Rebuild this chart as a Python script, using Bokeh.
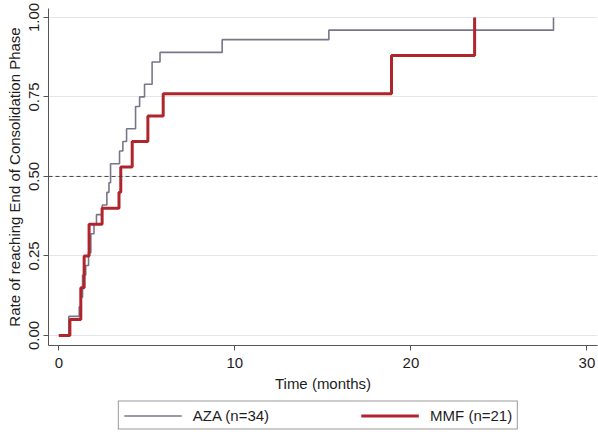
from bokeh.plotting import figure
from bokeh.layouts import column, row, Spacer
from bokeh.models import Range1d, Span, Legend, LegendItem, FixedTicker, NumeralTickFormatter
from bokeh.embed import file_html
from bokeh.resources import INLINE

# Data (Kaplan-Meier style cumulative rate)
aza_t = [0, 0.57, 1.16, 1.25, 1.35, 1.53, 1.69, 1.82, 2.0, 2.14, 2.47, 2.73, 2.85, 2.94,
         3.45, 3.64, 3.85, 4.36, 4.59, 4.87, 5.3, 5.75, 9.28, 15.34, 28.1]
aza_r = [0, 0.06, 0.09, 0.12, 0.19, 0.22, 0.26, 0.32, 0.35, 0.38, 0.41, 0.45, 0.48, 0.54,
         0.58, 0.61, 0.65, 0.72, 0.75, 0.79, 0.86, 0.89, 0.93, 0.96, 1.0]

mmf_t = [0, 0.63, 1.25, 1.44, 1.72, 2.46, 3.42, 3.52, 4.17, 5.06, 5.93, 18.9, 23.62]
mmf_r = [0, 0.05, 0.15, 0.25, 0.35, 0.40, 0.45, 0.53, 0.61, 0.69, 0.76, 0.88, 1.0]

x_ticks = [0, 10, 20, 30]
y_ticks = [0, 0.25, 0.5, 0.75, 1.0]
labels = ["AZA (n=34)", "MMF (n=21)"]

FONT = "Liberation Sans"
TXT = "#1e1e1e"
AX = "#555555"
AZA_C = "#77778a"
MMF_C = "#b0242c"

p = figure(width=598, height=398, output_backend="svg", toolbar_location=None,
           x_range=Range1d(-0.585, 30.6), y_range=Range1d(-0.0315, 1.028),
           min_border_left=48, min_border_right=1, min_border_top=8, min_border_bottom=53)
p.outline_line_color = None
p.background_fill_color = "white"
p.border_fill_color = "white"

p.xgrid.visible = False
p.ygrid.grid_line_color = "#e4e4ec"
p.ygrid.grid_line_width = 1

p.xaxis.ticker = FixedTicker(ticks=x_ticks)
p.yaxis.ticker = FixedTicker(ticks=y_ticks)
p.yaxis.formatter = NumeralTickFormatter(format="0.00")
p.yaxis.major_label_orientation = "vertical"

for ax in (p.xaxis[0], p.yaxis[0]):
    ax.axis_line_color = AX
    ax.major_tick_line_color = AX
    ax.major_tick_in = 0
    ax.major_tick_out = 5
    ax.minor_tick_line_color = None
    ax.major_label_text_font = FONT
    ax.major_label_text_font_size = "15px"
    ax.major_label_text_color = TXT
    ax.axis_label_text_font = FONT
    ax.axis_label_text_font_size = "15px"
    ax.axis_label_text_font_style = "normal"
    ax.axis_label_text_color = TXT

p.xaxis.axis_label = "Time (months)"
p.yaxis.axis_label = "Rate of reaching End of Consolidation Phase"
p.xaxis.major_label_standoff = 7
p.xaxis.axis_label_standoff = 4
p.yaxis.major_label_standoff = 4
p.yaxis.axis_label_standoff = 4

half = Span(location=0.5, dimension="width", line_color="#444444", line_width=1,
            line_dash="4 3")
p.add_layout(half)

p.step(aza_t, aza_r, mode="after", line_color=AZA_C, line_width=1.6)
p.step(mmf_t, mmf_r, mode="after", line_color=MMF_C, line_width=3)

# Legend strip below the chart (same series drawn out of view, only the key shows)
lg = figure(width=404, height=34, output_backend="svg", toolbar_location=None,
            x_axis_location=None, y_axis_location=None,
            x_range=Range1d(0, 1), y_range=Range1d(10, 11),
            min_border_left=0, min_border_right=0, min_border_top=0, min_border_bottom=0)
lg.grid.visible = False
lg.outline_line_color = None
lg.border_fill_color = "white"
lg.background_fill_color = "white"
l_aza = lg.step(aza_t, aza_r, mode="after", line_color=AZA_C, line_width=1.6)
l_mmf = lg.step(mmf_t, mmf_r, mode="after", line_color=MMF_C, line_width=3)

legend = Legend(items=[LegendItem(label=labels[0], renderers=[l_aza]),
                       LegendItem(label=labels[1], renderers=[l_mmf])],
                orientation="horizontal", location="center",
                border_line_color="#333333", border_line_width=1,
                background_fill_color="white", background_fill_alpha=1,
                label_text_font=FONT, label_text_font_size="15px", label_text_color=TXT,
                glyph_width=58, glyph_height=14, label_height=14, label_standoff=11,
                spacing=92, padding=5, margin=0)
lg.add_layout(legend, "center")

layout = column(p, row(Spacer(width=116, height=34), lg, spacing=0), spacing=0)
open("out.html", "w").write(file_html(layout, INLINE))
